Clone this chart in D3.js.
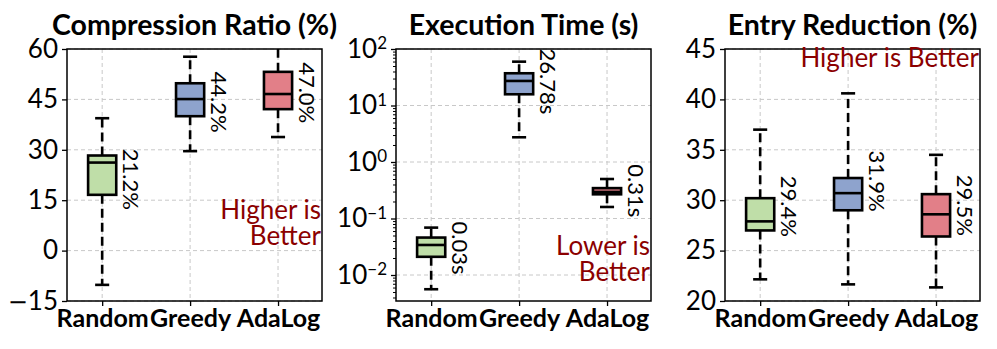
<!DOCTYPE html>
<html>
  <head>
    <meta charset="utf-8">
    <title>Random / Greedy / AdaLog boxplots</title>
    <script src="https://d3js.org/d3.v7.min.js"></script>
    <style>
      body { margin: 0; background: #fff; }
      svg text { font-family: Lato, "Open Sans", sans-serif; fill: #000; }
    </style>
  </head>
  <body>
    <div id="chart"></div>
    <script>
      // data: [low whisker, q1, median, q3, high whisker]
      var categories = ["Random", "Greedy", "AdaLog"];

      var ratioBoxes = [
        [-10.2, 16.6, 26.2, 28.3, 39.4],
        [29.6, 40.0, 45.1, 49.8, 57.7],
        [33.8, 42.1, 46.6, 53.2, 63.0]
      ];
      var ratioMeans = [21.2, 44.2, 47.0];
      var ratioLabels = ["21.2%", "44.2%", "47.0%"];
      var ratioTicks = [-15, 0, 15, 30, 45, 60];

      var timeBoxes = [
        [0.0056, 0.021, 0.034, 0.046, 0.069],
        [2.74, 15.8, 27.2, 37.2, 59.7],
        [0.16, 0.268, 0.295, 0.345, 0.50]
      ];
      var timeMeans = [0.03, 26.78, 0.31];
      var timeLabels = ["0.03s", "26.78s", "0.31s"];
      var timeTicks = [-2, -1, 0, 1, 2];

      var entryBoxes = [
        [22.15, 27.0, 27.9, 30.2, 37.0],
        [21.65, 29.0, 30.7, 32.2, 40.6],
        [21.35, 26.4, 28.6, 30.6, 34.5]
      ];
      var entryMeans = [29.4, 31.9, 29.5];
      var entryLabels = ["29.4%", "31.9%", "29.5%"];
      var entryTicks = [20, 25, 30, 35, 40, 45];

      var fills = ["#bfdea8", "#8ea3cd", "#e27f88"];

      var panels = [
        {title: "Compression Ratio (%)", boxes: ratioBoxes, means: ratioMeans, labels: ratioLabels,
         ticks: ratioTicks, domain: [-15, 60], log: false, note: ["Higher is", "Better"], noteY: 170},
        {title: "Execution Time (s)", boxes: timeBoxes, means: timeMeans, labels: timeLabels,
         ticks: timeTicks, domain: [Math.pow(10, -2.46), 100], log: true, note: ["Lower is", "Better"], noteY: 206},
        {title: "Entry Reduction (%)", boxes: entryBoxes, means: entryMeans, labels: entryLabels,
         ticks: entryTicks, domain: [20, 45], log: false, note: ["Higher is Better"], noteY: 18}
      ];

      var width = 997, height = 349;
      var lefts = [67, 396, 725], plotW = 255, plotH = 252, plotTop = 49;

      var svg = d3.select("#chart").append("svg")
        .attr("width", width)
        .attr("height", height);

      panels.forEach(function(p, pi) {
        var g = svg.append("g")
          .attr("transform", "translate(" + lefts[pi] + "," + plotTop + ")");

        var x = d3.scaleLinear().domain([0.6, 3.5]).range([0, plotW]);
        var y = p.log
          ? d3.scaleLog().domain(p.domain).range([plotH, 0])
          : d3.scaleLinear().domain(p.domain).range([plotH, 0]);
        var yTicks = p.log ? p.ticks.map(function(e) { return Math.pow(10, e); }) : p.ticks;

        // grid
        g.append("g").selectAll("line").data(yTicks).enter().append("line")
          .attr("x1", 0).attr("x2", plotW)
          .attr("y1", function(d) { return y(d); }).attr("y2", function(d) { return y(d); })
          .attr("stroke", "#c8c8c8").attr("stroke-width", 1).attr("stroke-dasharray", "4,3");
        g.append("g").selectAll("line").data([1, 2, 3]).enter().append("line")
          .attr("x1", function(d) { return x(d); }).attr("x2", function(d) { return x(d); })
          .attr("y1", 0).attr("y2", plotH)
          .attr("stroke", "#c8c8c8").attr("stroke-width", 1).attr("stroke-dasharray", "4,3");

        var clipId = "clip" + pi;
        g.append("clipPath").attr("id", clipId).append("rect")
          .attr("width", plotW).attr("height", plotH);
        var plot = g.append("g").attr("clip-path", "url(#" + clipId + ")");

        var bw = 0.32, cw = 0.16;
        var box = plot.selectAll(".box").data(p.boxes).enter().append("g").attr("class", "box");

        // whiskers
        box.append("line")
          .attr("x1", function(d, i) { return x(i + 1); }).attr("x2", function(d, i) { return x(i + 1); })
          .attr("y1", function(d) { return y(d[3]); }).attr("y2", function(d) { return y(d[4]); })
          .attr("stroke", "#000").attr("stroke-width", 2.6).attr("stroke-dasharray", "9,5");
        box.append("line")
          .attr("x1", function(d, i) { return x(i + 1); }).attr("x2", function(d, i) { return x(i + 1); })
          .attr("y1", function(d) { return y(d[1]); }).attr("y2", function(d) { return y(d[0]); })
          .attr("stroke", "#000").attr("stroke-width", 2.6).attr("stroke-dasharray", "9,5");
        // caps
        [0, 4].forEach(function(k) {
          box.append("line")
            .attr("x1", function(d, i) { return x(i + 1 - cw / 2); })
            .attr("x2", function(d, i) { return x(i + 1 + cw / 2); })
            .attr("y1", function(d) { return y(d[k]); }).attr("y2", function(d) { return y(d[k]); })
            .attr("stroke", "#000").attr("stroke-width", 2.6);
        });
        // box
        box.append("rect")
          .attr("x", function(d, i) { return x(i + 1 - bw / 2); })
          .attr("width", x(1 + bw / 2) - x(1 - bw / 2))
          .attr("y", function(d) { return y(d[3]); })
          .attr("height", function(d) { return y(d[1]) - y(d[3]); })
          .attr("fill", function(d, i) { return fills[i]; })
          .attr("stroke", "#000").attr("stroke-width", 2.6);
        // median
        box.append("line")
          .attr("x1", function(d, i) { return x(i + 1 - bw / 2); })
          .attr("x2", function(d, i) { return x(i + 1 + bw / 2); })
          .attr("y1", function(d) { return y(d[2]); }).attr("y2", function(d) { return y(d[2]); })
          .attr("stroke", "#000").attr("stroke-width", 2.6);

        // mean labels, rotated
        g.selectAll(".mlab").data(p.means).enter().append("text")
          .attr("class", "mlab")
          .attr("transform", function(d, i) {
            return "translate(" + x(i + 1.24) + "," + y(d) + ") rotate(90)";
          })
          .attr("text-anchor", "middle")
          .style("font-size", "22px")
          .text(function(d, i) { return p.labels[i]; });

        // frame
        g.append("rect").attr("width", plotW).attr("height", plotH)
          .attr("fill", "none").attr("stroke", "#000").attr("stroke-width", 1.5);

        // y axis
        var yAxis = d3.axisLeft(y).tickValues(yTicks).tickSize(5).tickPadding(4).tickFormat("");
        var ya = g.append("g").call(yAxis);
        ya.select(".domain").remove();
        ya.selectAll("line").attr("stroke-width", 1.3);
        ya.selectAll("text").style("font-size", "26px");

        // tick labels: wide minus sign, superscript exponent on the log panel
        ya.selectAll(".tick text").each(function(d, i) {
          var t = d3.select(this);
          var v = p.ticks[i];
          if (p.log) {
            t.append("tspan").text("10");
            t.append("tspan").attr("dy", "-0.5em").style("font-size", "17px")
              .text(v < 0 ? "\u2212" + Math.abs(v) : v);
          } else {
            if (v < 0) t.append("tspan").style("font-family", "'DejaVu Sans'").style("font-size", "24px").text("\u2212");
            t.append("tspan").text(Math.abs(v));
          }
        });

        if (p.log) {
          var minor = [];
          for (var e = -3; e < 2; e++) {
            for (var m = 2; m < 10; m++) {
              var v = m * Math.pow(10, e);
              if (v >= p.domain[0] && v <= p.domain[1]) minor.push(v);
            }
          }
          var ym = g.append("g").call(d3.axisLeft(y).tickValues(minor).tickSize(3).tickFormat(""));
          ym.select(".domain").remove();
          ym.selectAll("line").attr("stroke-width", 1);
        }

        // x axis
        var xa = g.append("g").attr("transform", "translate(0," + plotH + ")")
          .call(d3.axisBottom(x).tickValues([1, 2, 3]).tickSize(5).tickPadding(3)
            .tickFormat(function(d) { return categories[d - 1]; }));
        xa.select(".domain").remove();
        xa.selectAll("line").attr("stroke-width", 1.3);
        xa.selectAll("text").style("font-size", "25px").style("font-weight", "bold");

        // title
        g.append("text").attr("x", plotW / 2).attr("y", -14)
          .attr("text-anchor", "middle")
          .style("font-size", "28.5px").style("font-weight", "bold")
          .text(p.title);

        // note, one text with a tspan per line
        var note = g.append("text")
          .attr("y", p.noteY)
          .attr("text-anchor", "end")
          .style("font-size", "26px").style("fill", "#8b0000");
        note.selectAll("tspan").data(p.note).enter().append("tspan")
          .attr("x", plotW - 1)
          .attr("dy", function(d, i) { return i === 0 ? 0 : 26; })
          .style("fill", "#8b0000")
          .text(function(d) { return d; });
      });
    </script>
  </body>
</html>
